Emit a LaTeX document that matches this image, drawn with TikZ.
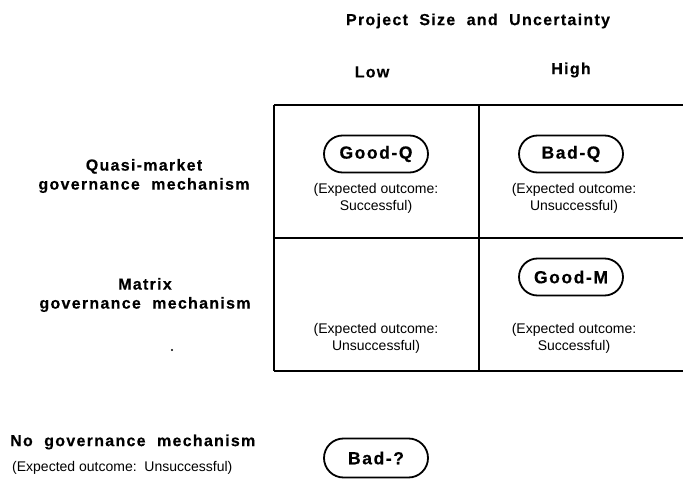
\documentclass[tikz,border=0pt]{standalone}
\usepackage{fontspec}
\setmainfont{Liberation Sans}
\newfontfamily\labfont[LetterSpace=8,WordSpace=2,BoldFeatures={FakeBold=0.3}]{Liberation Sans}
\newfontfamily\pillfont[LetterSpace=9,BoldFeatures={FakeBold=0.5}]{Liberation Sans}
\usetikzlibrary{shapes.misc}
\tikzset{
  lab/.style={font=\labfont\fontsize{16}{19}\selectfont\bfseries, align=center, inner sep=0pt},
  note/.style={font=\fontsize{14}{17}\selectfont, align=center, inner sep=0pt},
  pill/.style={rounded rectangle, draw, line width=1.8pt, minimum width=104pt, minimum height=37pt, inner sep=0pt, font=\pillfont\fontsize{17.5}{20}\selectfont\bfseries},
  gridline/.style={line width=2.4pt}
}
\begin{document}
\begin{tikzpicture}[x=1pt,y=-1pt]
\useasboundingbox (0,0) rectangle (683,481);
% header
\node[lab] (title) at (478,21) {Project Size and Uncertainty};
\node[lab] (low) at (372,72) {Low};
\node[lab] (high) at (571,70) {High};
% grid
\coordinate (tl) at (274,105);
\coordinate (tm) at (479,105);
\coordinate (tr) at (684,105);
\coordinate (ml) at (274,238);
\coordinate (mr) at (684,238);
\coordinate (bl) at (274,371);
\coordinate (bm) at (479,371);
\coordinate (br) at (684,371);
\draw[gridline] (tl) -- (tr) (ml) -- (mr) (bl) -- (br) (tl) -- (bl) (tm) -- (bm) (tr) -- (br);
% row labels
\node[lab] (quasi) at (144,176) {Quasi-market\\governance mechanism};
\node[lab] (matrix) at (145,295) {Matrix\\governance mechanism};
\fill (172,350) circle (1.2pt);
% cells
\node[pill] (goodq) at (376,154) {Good-Q};
\node[note] (oq1) at (376,198) {(Expected outcome:\\Successful)};
\node[pill] (badq) at (571,154) {Bad-Q};
\node[note] (oq2) at (574,198) {(Expected outcome:\\Unsuccessful)};
\node[note] (om1) at (376,338) {(Expected outcome:\\Unsuccessful)};
\node[pill] (goodm) at (571,277) {Good-M};
\node[note] (om2) at (574,338) {(Expected outcome:\\Successful)};
% bottom row
\node[lab, anchor=west] (nogov) at (10,442) {No governance mechanism};
\node[note, anchor=west] (onone) at (12,468) {(Expected outcome:\ \ Unsuccessful)};
\node[pill, minimum height=39pt] (bad) at (376,458) {Bad-?};
\end{tikzpicture}
\end{document}
